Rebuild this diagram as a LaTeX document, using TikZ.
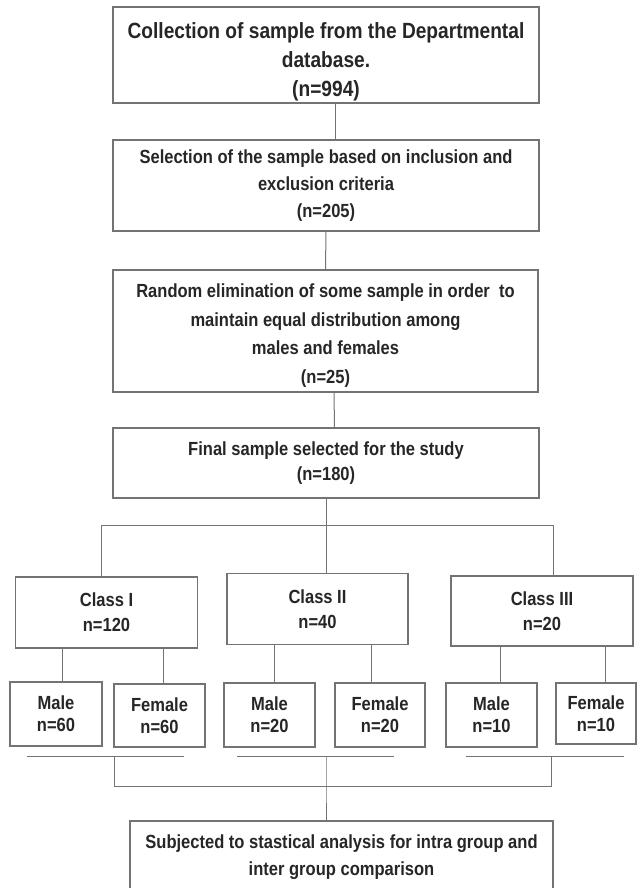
\documentclass[tikz,border=0pt]{standalone}
\usepackage{fontspec}
\setmainfont[FakeStretch=0.87]{Liberation Sans}
\begin{document}
\begin{tikzpicture}[x=1pt,y=-1pt,
	stagebox/.style={draw=black!55,line width=1.2pt,text=black!85,align=center,inner sep=0pt,
		font=\fontsize{19}{27}\selectfont\bfseries},
	classbox/.style={stagebox,minimum width=182,minimum height=71,font=\fontsize{19}{25}\selectfont\bfseries},
	subbox/.style={stagebox,minimum width=91,minimum height=64,font=\fontsize{19}{22}\selectfont\bfseries},
	link/.style={draw=black!55,line width=1pt}]
			\useasboundingbox (0,0) rectangle (640,888);
			\clip (0,0) rectangle (640,888);
			
			% Các bước chọn mẫu
			\node[stagebox,minimum width=426,minimum height=96,font=\fontsize{22}{29}\selectfont\bfseries] (collect) at (326,55) {\rule{0pt}{30pt}Collection of sample from the Departmental\\database.\\(n=994)};
			\node[stagebox,minimum width=426,minimum height=91] (selection) at (326,185.5) {Selection of the sample based on inclusion and\\exclusion criteria\\(n=205)};
			\node[stagebox,minimum width=425,minimum height=122,font=\fontsize{19}{28.5}\selectfont\bfseries] (random) at (325.5,331) {\rule{0pt}{23pt}Random elimination of some sample in order\ \ to\\maintain equal distribution among\\males and females\\(n=25)};
			\node[stagebox,minimum width=426,minimum height=70,font=\fontsize{19}{25}\selectfont\bfseries] (final) at (326,463) {Final sample selected for the study\\(n=180)};
			
			% Ba nhóm
			\node[classbox] (c1) at (106.5,612.5) {Class I\\n=120};
			\node[classbox,minimum width=181] (c2) at (317.5,609) {Class II\\n=40};
			\node[classbox,minimum height=70] (c3) at (542,611) {Class III\\n=20};
			
			% Nam và nữ
			\node[subbox,minimum width=92] (m1) at (56,714) {Male\\n=60};
			\node[subbox,minimum height=63] (f1) at (159.5,715.5) {Female\\n=60};
			\node[subbox] (m2) at (269.5,715) {Male\\n=20};
			\node[subbox,minimum width=90] (f2) at (380,715) {Female\\n=20};
			\node[subbox] (m3) at (491.5,715) {Male\\n=10};
			\node[subbox,minimum width=80,minimum height=61] (f3) at (596,713.5) {Female\\n=10};
			
			% Phân tích
			\node[stagebox,minimum width=423,minimum height=72] (analysis) at (341.5,857) {Subjected to stastical analysis for intra group and\\inter group comparison};
			
			% Đường nối
			\draw[link] ([xshift=9pt]collect.south) -- ([xshift=9pt]selection.north);
			\draw[link] (selection.south) -- (random.north);
			\draw[link] ([xshift=8.5pt]random.south) -- ([xshift=8.5pt]final.north);
			\draw[link] (final.south) -- ++(0,27) coordinate (split);
			\draw[link] ([xshift=-5.5pt]c1.north) |- (split) -| ([xshift=11pt]c3.north);
			\draw[link] (split) -- ([xshift=8.5pt]c2.north);
			
			\draw[link] ([xshift=6pt]m1.north) -- ([xshift=6pt]m1.north |- c1.south);
			\draw[link] ([xshift=3.5pt]f1.north) -- ([xshift=3.5pt]f1.north |- c1.south);
			\draw[link] ([xshift=4.5pt]m2.north) -- ([xshift=4.5pt]m2.north |- c2.south);
			\draw[link] ([xshift=-9pt]f2.north) -- ([xshift=-9pt]f2.north |- c2.south);
			\draw[link] ([xshift=8.5pt]m3.north) -- ([xshift=8.5pt]m3.north |- c3.south);
			\draw[link] ([xshift=9pt]f3.north) -- ([xshift=9pt]f3.north |- c3.south);
			
			% Gạch dưới và gộp lại
			\coordinate (bar1l) at (27,756);
			\coordinate (bar1r) at (184,756);
			\coordinate (bar2l) at (237,756);
			\coordinate (bar2r) at (394,756);
			\coordinate (bar3l) at (466,756);
			\coordinate (bar3r) at (624,756);
			\coordinate (join1) at (114,756);
			\coordinate (join2) at (326,756);
			\coordinate (join3) at (551,756);
			\coordinate (merge) at (326,786);
			\draw[link] (bar1l) -- (bar1r);
			\draw[link] (bar2l) -- (bar2r);
			\draw[link] (bar3l) -- (bar3r);
			\draw[link] (join1) |- (merge) -| (join3);
			\draw[link] (join2) -- (merge) -- ([xshift=-15.5pt]analysis.north);
	\end{tikzpicture}
\end{document}
